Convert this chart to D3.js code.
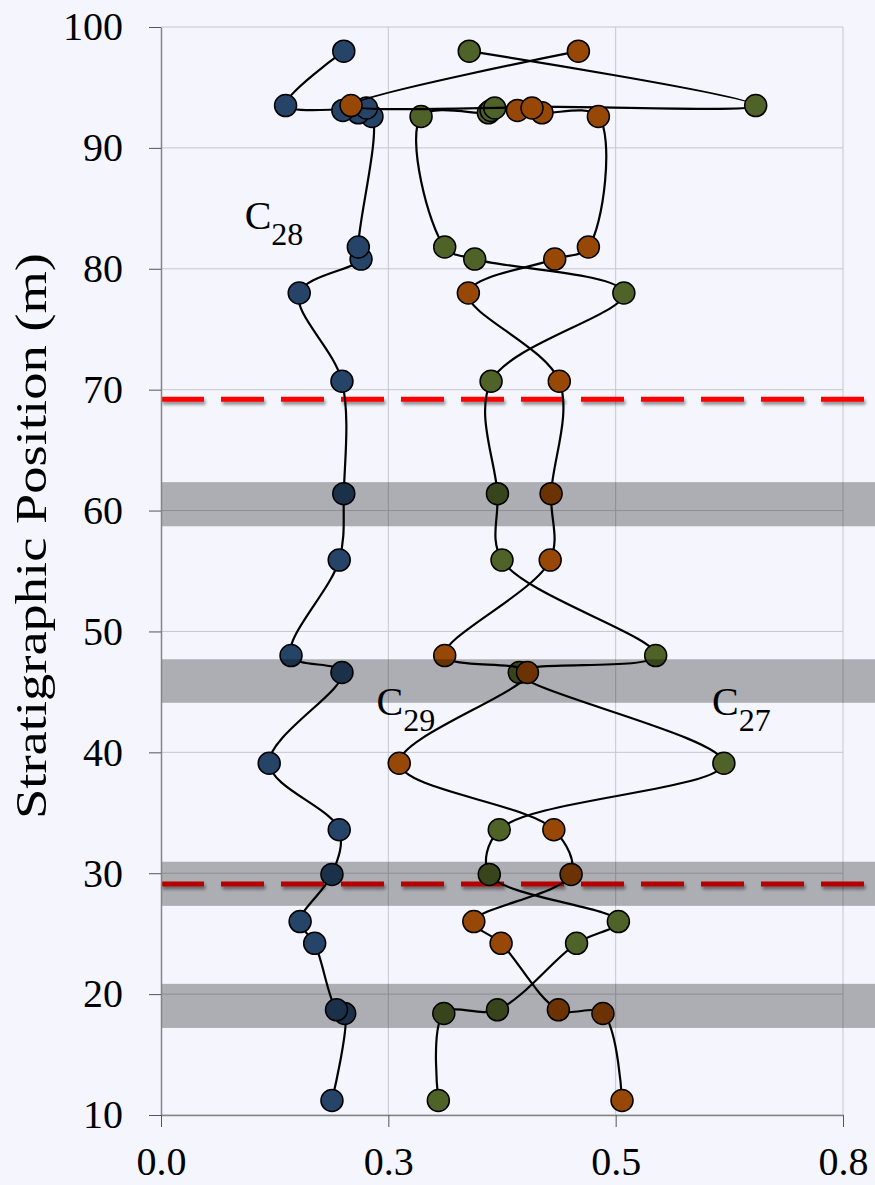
<!DOCTYPE html>
<html>
<head>
<meta charset="utf-8">
<script src="https://cdn.jsdelivr.net/npm/d3@7"></script>
<style>
  body { margin: 0; background: #f4f5fd; }
  svg { display: block; font-family: "Liberation Serif", "Times New Roman", serif; }
</style>
</head>
<body>
<script>
// stratigraphic position of each sample (m), shared by the three series
const positions = [11.2, 18.4, 18.7, 24.2, 26.0, 29.9, 33.6, 39.1, 46.6, 48.0, 55.9, 61.4,
                   70.7, 78.0, 80.8, 81.8, 92.6, 92.9, 93.1, 93.3, 93.5, 98.0];

// values per series
const blueVals   = [0.188, 0.202, 0.193, 0.169, 0.153, 0.188, 0.196, 0.119, 0.199, 0.143, 0.196, 0.201,
                    0.199, 0.152, 0.220, 0.217, 0.232, 0.217, 0.200, 0.226, 0.137, 0.201];
const greenVals  = [0.305, 0.311, 0.370, 0.457, 0.503, 0.361, 0.372, 0.619, 0.394, 0.544, 0.375, 0.370,
                    0.363, 0.509, 0.345, 0.312, 0.286, 0.360, 0.363, 0.367, 0.654, 0.339];
const orangeVals = [0.507, 0.486, 0.437, 0.374, 0.344, 0.451, 0.432, 0.262, 0.403, 0.312, 0.428, 0.429,
                    0.438, 0.338, 0.433, 0.470, 0.481, 0.419, 0.392, 0.408, 0.209, 0.459];

// grey horizons [bottom, top] and red dashed boundaries (m)
const bands = [[58.7, 62.35], [44.1, 47.7], [27.3, 30.95], [17.2, 20.85]];
const boundaries = [69.2, 29.1];

// chron labels
const chronNames = ["28", "29", "27"];
const chronX = [0.092, 0.237, 0.606];
const chronY = [83.3, 43.1, 43.1];

const xTicks = [0, 0.25, 0.5, 0.75];
const yTicks = [10, 20, 30, 40, 50, 60, 70, 80, 90, 100];

const W = 875, H = 1185;
const x = d3.scaleLinear().domain([0, 0.75]).range([161, 843]);
const y = d3.scaleLinear().domain([10, 100]).range([1115, 27]);

const svg = d3.select("body").append("svg").attr("width", W).attr("height", H);
svg.append("rect").attr("width", W).attr("height", H).attr("fill", "#f4f5fd");

const defs = svg.append("defs");
defs.append("filter").attr("id", "shadow").attr("filterUnits", "userSpaceOnUse")
  .attr("x", 0).attr("y", 0).attr("width", W).attr("height", H)
  .append("feDropShadow").attr("dx", 1.5).attr("dy", 3).attr("stdDeviation", 1.8)
  .attr("flood-color", "#000").attr("flood-opacity", 0.4);

// gridlines
const grid = svg.append("g");
grid.selectAll("line.h").data(yTicks).join("line").attr("class", "h")
  .attr("x1", x(0)).attr("x2", x(0.75)).attr("y1", d => y(d)).attr("y2", d => y(d))
  .attr("stroke", "#c6c7cd").attr("stroke-width", 1);
grid.selectAll("line.v").data(xTicks.slice(1)).join("line").attr("class", "v")
  .attr("y1", y(10)).attr("y2", y(100)).attr("x1", d => x(d)).attr("x2", d => x(d))
  .attr("stroke", "#c6c7cd").attr("stroke-width", 1);

// red boundaries
svg.append("g").selectAll("line").data(boundaries).join("line")
  .attr("x1", x(0)).attr("x2", W).attr("y1", d => y(d)).attr("y2", d => y(d))
  .attr("stroke", "#ff0000").attr("stroke-width", 5).attr("stroke-dasharray", "43 17")
  .attr("filter", "url(#shadow)");

// series
const series = [
  {values: blueVals, fill: "#264467"},
  {values: greenVals, fill: "#4f6228"},
  {values: orangeVals, fill: "#974807"}
];
const line = d3.line().x(d => x(d[0])).y(d => y(d[1])).curve(d3.curveCatmullRom.alpha(0.5));

series.forEach(s => {
  const pts = s.values.map((v, i) => [v, positions[i]]);
  const g = svg.append("g");
  g.append("path").datum(pts).attr("d", line)
    .attr("fill", "none").attr("stroke", "#000").attr("stroke-width", 2.2);
  g.selectAll("circle").data(pts).join("circle")
    .attr("cx", d => x(d[0])).attr("cy", d => y(d[1])).attr("r", 11)
    .attr("fill", s.fill).attr("stroke", "#000").attr("stroke-width", 1.5);
});

// grey bands on top
svg.append("g").selectAll("rect").data(bands).join("rect")
  .attr("x", x(0)).attr("width", W - x(0))
  .attr("y", d => y(d[1])).attr("height", d => y(d[0]) - y(d[1]))
  .attr("fill", "#000").attr("fill-opacity", 0.29);

// axes
const yAxis = svg.append("g").attr("transform", `translate(${x(0)},0)`)
  .call(d3.axisLeft(y).tickValues(yTicks).tickSize(12).tickSizeOuter(0).tickPadding(26));
const xAxis = svg.append("g").attr("transform", `translate(0,${y(10)})`)
  .call(d3.axisBottom(x).tickValues(xTicks).tickFormat(d3.format(".1f")).tickSize(12).tickSizeOuter(0));
[yAxis, xAxis].forEach(a => {
  a.select(".domain").attr("stroke", "#858585").attr("stroke-width", 1.5);
  a.selectAll(".tick line").attr("stroke", "#555");
  a.selectAll("text").attr("font-size", 40).attr("fill", "#000")
    .attr("font-family", "'Liberation Serif', 'Times New Roman', serif");
});
xAxis.selectAll("text").attr("y", 60).attr("dy", null);

// axis title
svg.append("text")
  .attr("transform", "rotate(-90)")
  .attr("x", -536).attr("y", 46)
  .attr("text-anchor", "middle")
  .attr("font-size", 44)
  .attr("textLength", 566).attr("lengthAdjust", "spacingAndGlyphs")
  .text("Stratigraphic Position (m)");

// chron labels
chronNames.forEach((n, i) => {
  const t = svg.append("text").attr("x", x(chronX[i])).attr("y", y(chronY[i])).attr("font-size", 40);
  t.append("tspan").text("C");
  t.append("tspan").attr("font-size", 32).attr("dy", 16).text(n);
});
</script>
</body>
</html>
